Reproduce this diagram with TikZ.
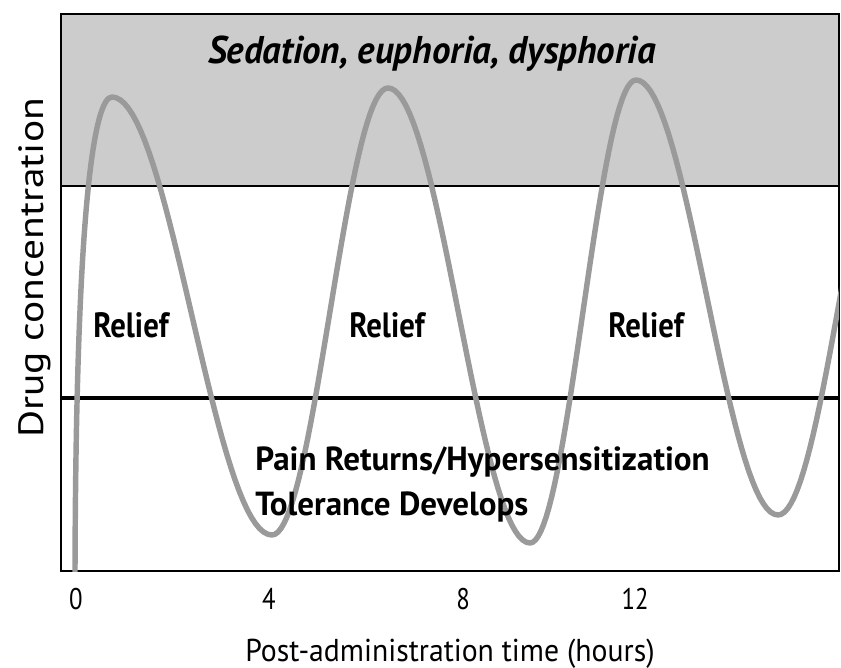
\documentclass[tikz,border=0pt]{standalone}
\usepackage{fontspec}
\setmainfont{PT Sans}
\definecolor{bandGray}{HTML}{CCCCCC}
\definecolor{curveGray}{HTML}{9A9A9A}
\newcommand{\plotFrame}{%%
  %% The shaded band at the top.
  \fill[bandStyle] (frameTopLeft) rectangle (bandEnd);
  \draw[frameStyle] (bandStart) -- (bandEnd);
  %% The box round the plot.
  \draw[frameStyle] (frameTopLeft) rectangle (frameBottomRight);
  %% The pain threshold.
  \draw[limitStyle] (limitStart) -- (limitEnd);
}
\newcommand{\reliefLabel}[2]{%%
  \node[reliefStyle] (#1) at (#2,\yrelief) {Relief};
}
\newcommand{\hourTick}[3]{%%
  \node[tickStyle] (#1) at (#2,\ytick) {#3};
}

\begin{document}
\begin{tikzpicture}[%%
  x=0.02cm,y=-0.02cm,
  frameStyle/.style={draw=black,line width=1.2pt},%%
  limitStyle/.style={draw=black,line width=2.5pt},%%
  bandStyle/.style={fill=bandGray},%%
  curveStyle/.style={draw=curveGray,line width=3.1pt,line cap=round,line join=round},%%
  headStyle/.style={font=\fontsize{22}{26}\selectfont\bfseries\itshape,anchor=base,inner sep=0pt,xscale=0.955},%%
  reliefStyle/.style={font=\fontsize{20}{24}\selectfont\bfseries,anchor=base,inner sep=0pt,xscale=0.875},%%
  painStyle/.style={font=\fontsize{19}{23}\selectfont\bfseries,anchor=base west,inner sep=0pt,xscale=0.99},%%
  tickStyle/.style={font=\fontsize{17}{20}\selectfont,anchor=base,inner sep=0pt,xscale=0.83},%%
  timeStyle/.style={font=\fontsize{18}{22}\selectfont,anchor=base,inner sep=0pt,xscale=0.94},%%
  concStyle/.style={font=\fontsize{20}{24}\selectfont,anchor=base,inner sep=0pt,rotate=90,xscale=1.18}
]
\useasboundingbox (0,0) rectangle (841,668);
%%
%%
\pgfmathsetmacro{\xleft}{61}
\pgfmathsetmacro{\xright}{839}
\pgfmathsetmacro{\ytop}{14}
\pgfmathsetmacro{\yband}{186}
\pgfmathsetmacro{\ylimit}{398}
\pgfmathsetmacro{\ybottom}{571}
\pgfmathsetmacro{\yrelief}{338}
\pgfmathsetmacro{\ytick}{609}
\coordinate (frameTopLeft) at (\xleft,\ytop);
\coordinate (frameBottomRight) at (\xright,\ybottom);
\coordinate (bandStart) at (\xleft,\yband);
\coordinate (bandEnd) at (\xright,\yband);
\coordinate (limitStart) at (\xleft,\ylimit);
\coordinate (limitEnd) at (\xright,\ylimit);
%%
%%
\plotFrame
%% Drug level after each dose: one half wave from each peak to the next trough.
\begin{scope}
\clip (frameTopLeft) rectangle (frameBottomRight);
\draw[curveStyle] (75,572) .. controls (76,200) and (95,97) .. (112,97)
  -- plot[domain=0:1,samples=40] ({112+160*\x},{316-219*cos(180*\x)})
  -- plot[domain=0:1,samples=40] ({272+116*\x},{311.5+223.5*cos(180*\x)})
  -- plot[domain=0:1,samples=40] ({388+142*\x},{315.5-227.5*cos(180*\x)})
  -- plot[domain=0:1,samples=40] ({530+106*\x},{311.5+231.5*cos(180*\x)})
  -- plot[domain=0:1,samples=40] ({636+142*\x},{297.5-217.5*cos(180*\x)})
  -- plot[domain=0:1,samples=40] ({778+125*\x},{295+220*cos(180*\x)});
\end{scope}
%% Labels inside the plot.
\node[headStyle] (sedation) at (432,64) {Sedation, euphoria, dysphoria};
\reliefLabel{reliefA}{131}
\reliefLabel{reliefB}{387}
\reliefLabel{reliefC}{646}
\node[painStyle] (painReturns) at (255,470) {Pain Returns/Hypersensitization};
\node[painStyle] (tolerance) at (255,515) {Tolerance Develops};
%% Hours along the bottom.
\hourTick{hourA}{76}{0}
\hourTick{hourB}{269}{4}
\hourTick{hourC}{463}{8}
\hourTick{hourD}{635}{12}
\node[timeStyle] (timeLabel) at (450,661) {Post-administration time (hours)};
\node[concStyle] (concLabel) at (43,268) {Drug concentration};
\end{tikzpicture}
\end{document}
